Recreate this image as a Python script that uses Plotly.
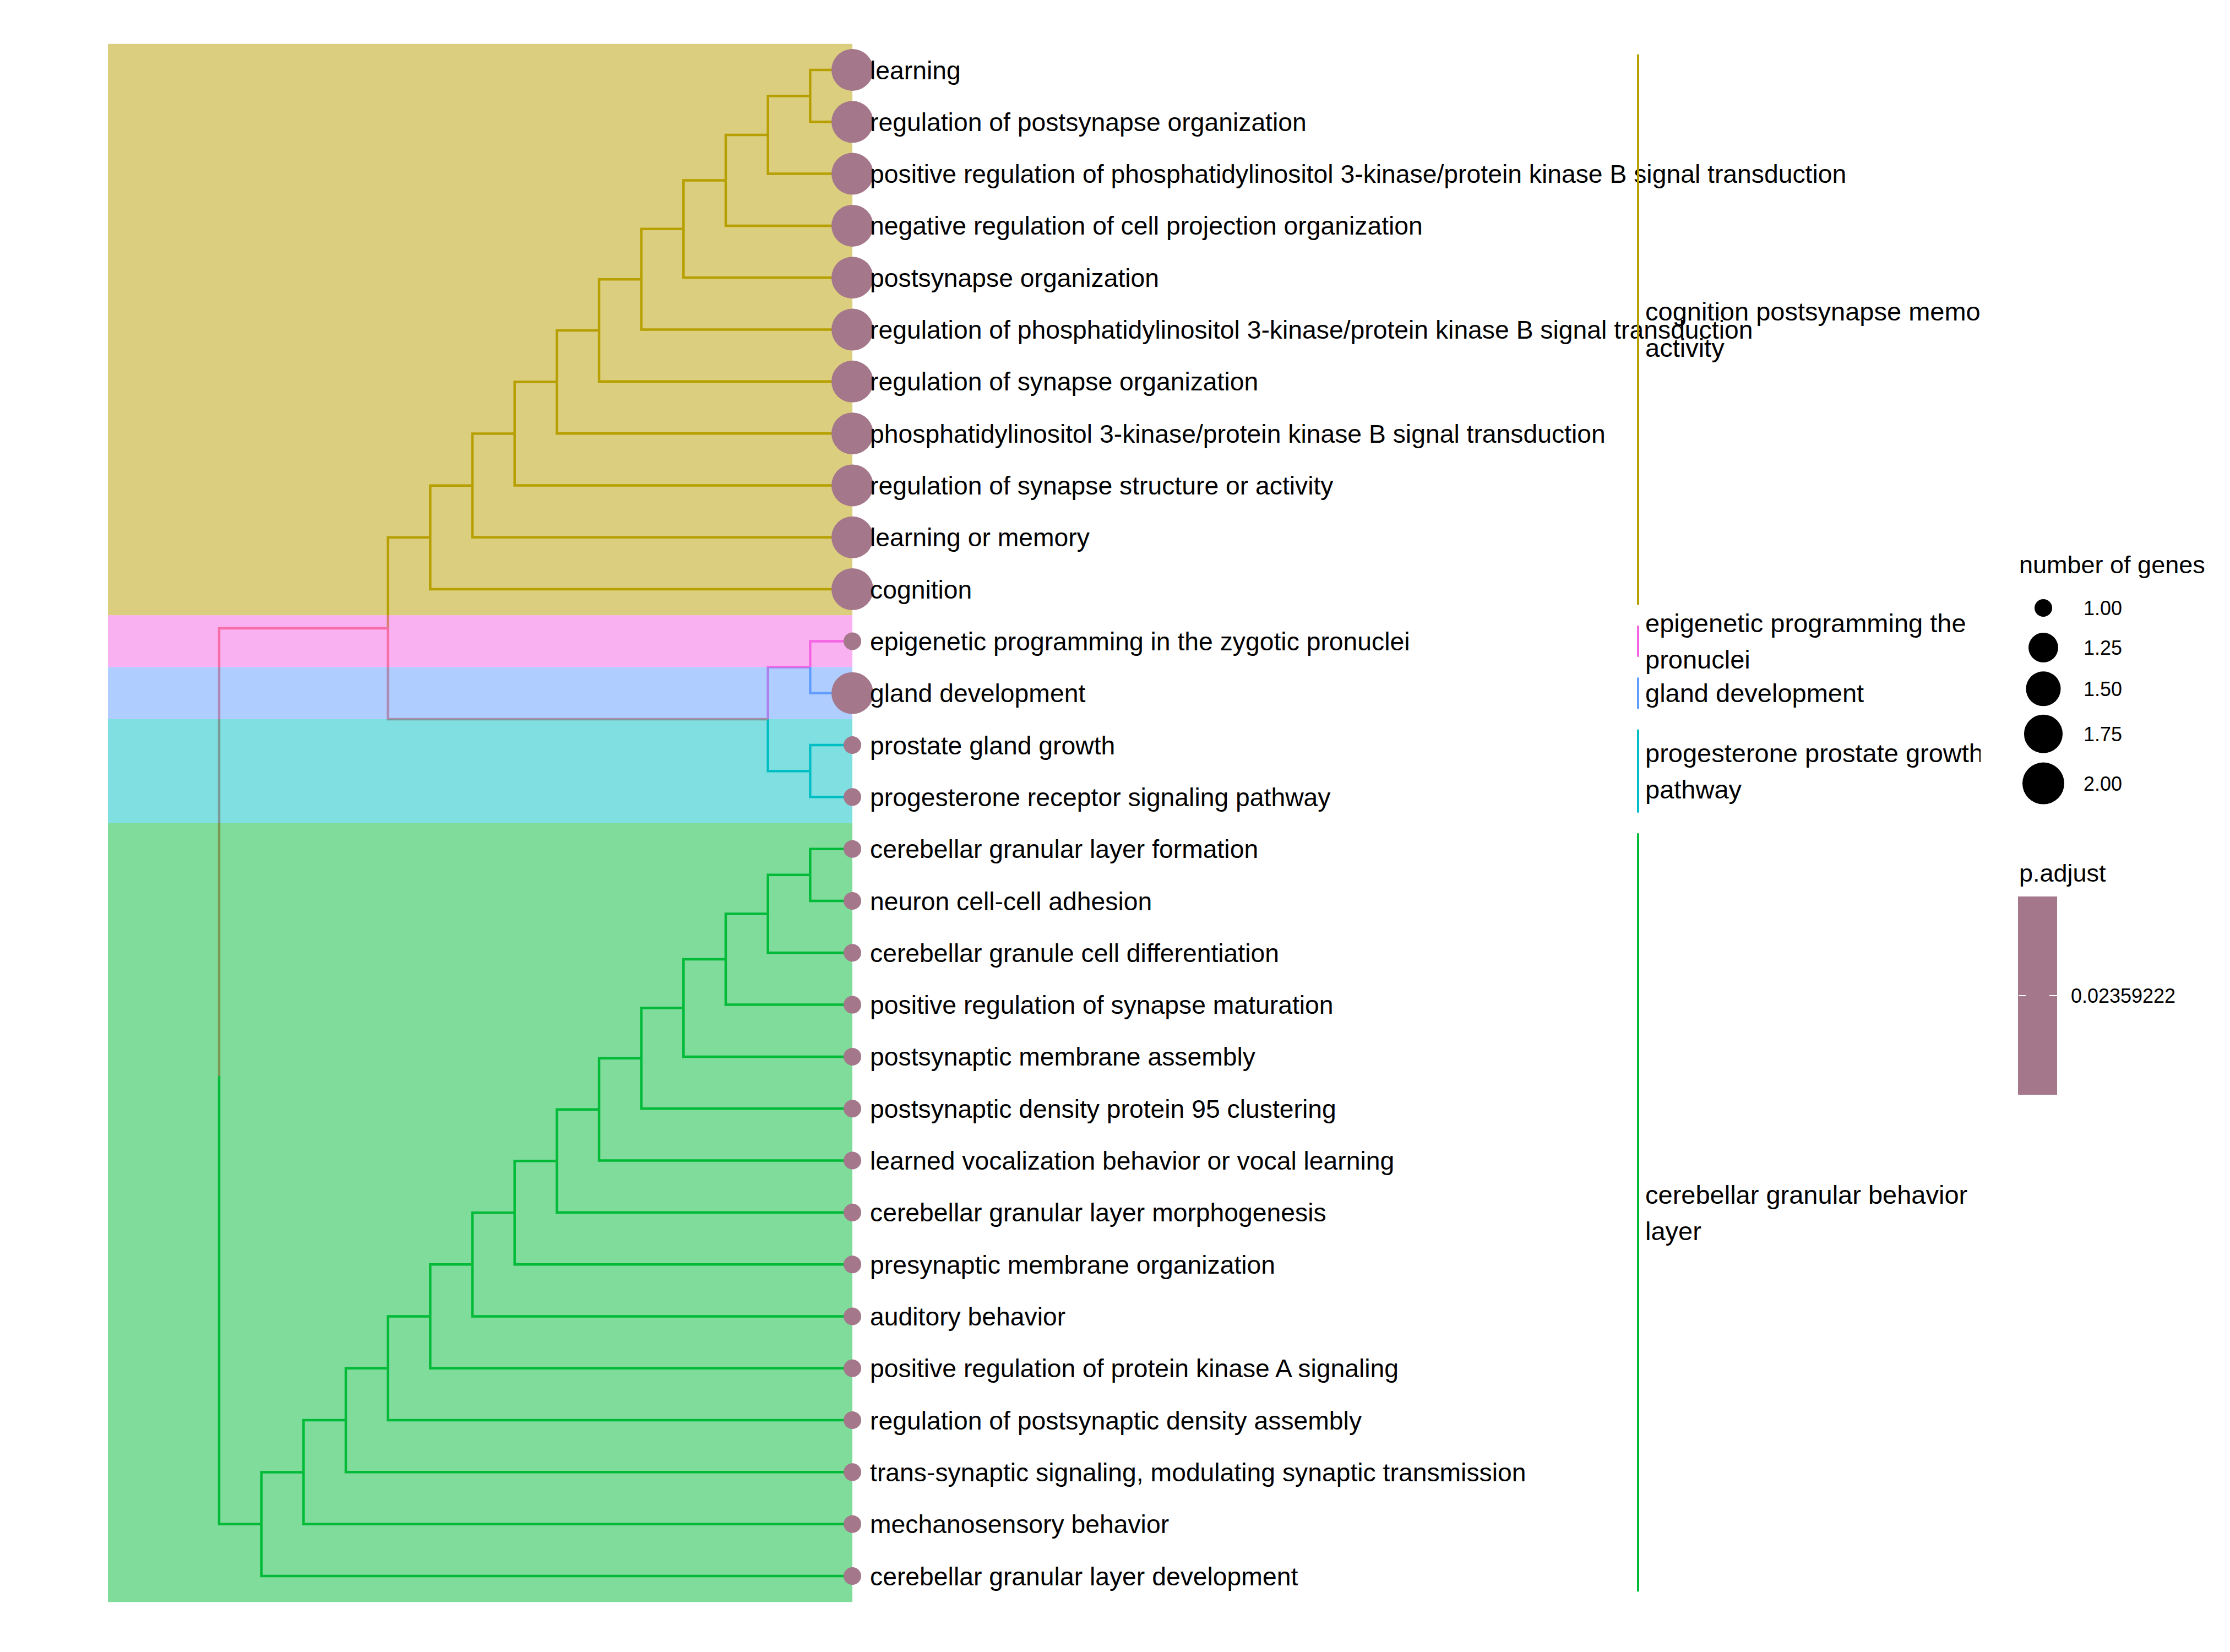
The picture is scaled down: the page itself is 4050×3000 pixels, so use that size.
import plotly.graph_objects as go

# ---------------- data ----------------
terms = [
    "learning",
    "regulation of postsynapse organization",
    "positive regulation of phosphatidylinositol 3-kinase/protein kinase B signal transduction",
    "negative regulation of cell projection organization",
    "postsynapse organization",
    "regulation of phosphatidylinositol 3-kinase/protein kinase B signal transduction",
    "regulation of synapse organization",
    "phosphatidylinositol 3-kinase/protein kinase B signal transduction",
    "regulation of synapse structure or activity",
    "learning or memory",
    "cognition",
    "epigenetic programming in the zygotic pronuclei",
    "gland development",
    "prostate gland growth",
    "progesterone receptor signaling pathway",
    "cerebellar granular layer formation",
    "neuron cell-cell adhesion",
    "cerebellar granule cell differentiation",
    "positive regulation of synapse maturation",
    "postsynaptic membrane assembly",
    "postsynaptic density protein 95 clustering",
    "learned vocalization behavior or vocal learning",
    "cerebellar granular layer morphogenesis",
    "presynaptic membrane organization",
    "auditory behavior",
    "positive regulation of protein kinase A signaling",
    "regulation of postsynaptic density assembly",
    "trans-synaptic signaling, modulating synaptic transmission",
    "mechanosensory behavior",
    "cerebellar granular layer development",
]
gene_counts = [2] * 11 + [1, 2] + [1] * 17
p_adjust = [0.02359222] * 30
leaf_cluster = [0] * 11 + [1, 2, 3, 3] + [4] * 15

cluster_label_lines = [
    ["cognition postsynapse memory", "activity"],
    ["epigenetic programming the", "pronuclei"],
    ["gland development"],
    ["progesterone prostate growth", "pathway"],
    ["cerebellar granular behavior", "layer"],
]

# hclust-style merges: negative = leaf (row number), positive = merge step (1-based)
merges = [
    (-1, -2), (1, -3), (2, -4), (3, -5), (4, -6), (5, -7), (6, -8), (7, -9), (8, -10), (9, -11),
    (-12, -13), (-14, -15), (11, 12), (10, 13),
    (-16, -17), (15, -18), (16, -19), (17, -20), (18, -21), (19, -22), (20, -23), (21, -24),
    (22, -25), (23, -26), (24, -27), (25, -28), (26, -29), (27, -30),
    (14, 28),
]
# edge colour group of each merge node (-1 = not inside a single cluster)
merge_group = [0] * 10 + [1, 3, -1, -1] + [4] * 14 + [-1]

size_legend_values = [1.00, 1.25, 1.50, 1.75, 2.00]

# ---------------- style ----------------
cluster_colors = ["#B79F00", "#F564E3", "#619CFF", "#00BFC4", "#00BA38"]
other_color = "#F8766D"
point_color = "#A4778B"
FONT = "Liberation Sans"
W, H = 4050, 3000

# pixel layout of the tree panel
ROOT_PX, TIP_PX, UNIT_PX = 398.0, 1548.0, 76.67
ROW1_PX, ROW_PX = 127.0, 94.31
PANEL_RIGHT_PX = 3597.0
RECT_LEFT = (196.0 - ROOT_PX) / UNIT_PX
TIPLAB_OFF = 32.0 / UNIT_PX
BAR_X = (2975.0 - ROOT_PX) / UNIT_PX
CLAB_X = (2988.0 - ROOT_PX) / UNIT_PX
LINE_GAP = 66.0 / ROW_PX
TEXT_DY = 5.0 / ROW_PX          # small baseline correction for text rows
SIZE_MIN, SIZE_MAX = 32.0, 76.0
LABEL_FS = 46.3
CLAB_FS = 47.0


def color_of(g):
    return other_color if g < 0 else cluster_colors[g]


def rgba(hexc, a):
    h = hexc.lstrip("#")
    return "rgba(%d,%d,%d,%.2f)" % (int(h[0:2], 16), int(h[2:4], 16), int(h[4:6], 16), a)


def size_scale(v, vmin, vmax):
    return SIZE_MIN + (SIZE_MAX - SIZE_MIN) * ((v - vmin) / (vmax - vmin)) ** 0.5


# ---------------- tree layout (cladogram, tips aligned) ----------------
n_leaf = len(terms)
level, ypos, parent, group = {}, {}, {}, {}
for i in range(n_leaf):
    key = -(i + 1)
    level[key] = 0
    ypos[key] = i + 1
    group[key] = leaf_cluster[i]
for m, (a, b) in enumerate(merges, start=1):
    level[m] = 1 + max(level[a], level[b])
    ypos[m] = (ypos[a] + ypos[b]) / 2.0
    parent[a] = m
    parent[b] = m
    group[m] = merge_group[m - 1]
max_level = max(level.values())
xpos = {k: max_level - v for k, v in level.items()}
tip_x = float(max_level)

fig = go.Figure()

# tree edges grouped by colour
seg = {}
for node, par in parent.items():
    c = color_of(group[node])
    xs, ys = seg.setdefault(c, ([], []))
    xs += [xpos[par], xpos[par], xpos[node], None]
    ys += [ypos[par], ypos[node], ypos[node], None]
for c, (xs, ys) in seg.items():
    fig.add_trace(go.Scatter(x=xs, y=ys, mode="lines", line=dict(color=c, width=4.5),
                             hoverinfo="skip", showlegend=False))

# translucent cluster background drawn over the branches
for ci, col in enumerate(cluster_colors):
    rows = [i + 1 for i, g in enumerate(leaf_cluster) if g == ci]
    y0, y1 = min(rows) - 0.5, max(rows) + 0.5
    fig.add_trace(go.Scatter(x=[RECT_LEFT, tip_x, tip_x, RECT_LEFT, RECT_LEFT],
                             y=[y0, y0, y1, y1, y0], mode="lines", fill="toself",
                             fillcolor=rgba(col, 0.5), line=dict(width=0),
                             hoverinfo="skip", showlegend=False))

# tip points
cmin, cmax = min(gene_counts), max(gene_counts)
pv = p_adjust[0]
fig.add_trace(go.Scatter(
    x=[tip_x] * n_leaf, y=list(range(1, n_leaf + 1)), mode="markers",
    marker=dict(size=[size_scale(v, cmin, cmax) for v in gene_counts], opacity=1,
                color=p_adjust, colorscale=[[0, point_color], [1, point_color]],
                cmin=pv - 1e-4, cmax=pv + 1e-4, line=dict(width=0),
                colorbar=dict(x=3665.0 / W, xanchor="left", y=1 - 1628.0 / H, yanchor="top",
                              len=360, lenmode="pixels", thickness=71, thicknessmode="pixels",
                              outlinewidth=0, xpad=0, ypad=0,
                              tickvals=[pv], ticktext=["\u00a0\u2009" + "%.8f" % pv],
                              ticks="inside", ticklen=14, tickwidth=2, tickcolor="white",
                              tickfont=dict(family=FONT, size=36, color="black"))),
    hoverinfo="skip", showlegend=False))

# tip labels
fig.add_trace(go.Scatter(
    x=[tip_x + TIPLAB_OFF] * n_leaf, y=[r + TEXT_DY for r in range(1, n_leaf + 1)], mode="text",
    text=terms, textposition="middle right",
    textfont=dict(family=FONT, size=LABEL_FS, color="black"),
    hoverinfo="skip", showlegend=False))

# cluster bars and labels
lab_x, lab_y, lab_t = [], [], []
for ci, col in enumerate(cluster_colors):
    rows = [i + 1 for i, g in enumerate(leaf_cluster) if g == ci]
    fig.add_trace(go.Scatter(x=[BAR_X, BAR_X], y=[min(rows) - 0.3, max(rows) + 0.3],
                             mode="lines", line=dict(color=col, width=4),
                             hoverinfo="skip", showlegend=False))
    center = (min(rows) + max(rows)) / 2.0
    lines = cluster_label_lines[ci]
    n = len(lines)
    for k, t in enumerate(lines):
        lab_x.append(CLAB_X)
        lab_y.append(center + (k - (n - 1) / 2.0) * LINE_GAP + TEXT_DY)
        lab_t.append(t)
fig.add_trace(go.Scatter(x=lab_x, y=lab_y, mode="text", text=lab_t,
                         textposition="middle right", cliponaxis=True,
                         textfont=dict(family=FONT, size=CLAB_FS, color="black"),
                         hoverinfo="skip", showlegend=False))

# size legend (pixel-unit auxiliary axes)
leg_sizes = [size_scale(v, min(size_legend_values), max(size_legend_values)) for v in size_legend_values]
leg_y = []
cur = 1104.0
prev_k = None
for s in leg_sizes:
    k = max(72.0, 1.23 * s)
    if prev_k is not None:
        cur += (prev_k + k) / 2.0
    leg_y.append(cur)
    prev_k = k
fig.add_trace(go.Scatter(x=[3711.0] * len(leg_sizes), y=leg_y, mode="markers",
                         marker=dict(size=leg_sizes, color="black", opacity=1, line=dict(width=0)),
                         xaxis="x2", yaxis="y2", hoverinfo="skip", showlegend=False))
fig.add_trace(go.Scatter(x=[3784.0] * len(leg_sizes), y=[v + 4 for v in leg_y], mode="text",
                         text=["%.2f" % v for v in size_legend_values], textposition="middle right",
                         textfont=dict(family=FONT, size=36, color="black"),
                         xaxis="x2", yaxis="y2", hoverinfo="skip", showlegend=False))

fig.add_annotation(x=3665, y=1025, xref="x2", yref="y2", text="number of genes", showarrow=False,
                   xanchor="left", yanchor="middle", font=dict(family=FONT, size=45, color="black"))
fig.add_annotation(x=3665, y=1585, xref="x2", yref="y2", text="p.adjust", showarrow=False,
                   xanchor="left", yanchor="middle", font=dict(family=FONT, size=45, color="black"))
fig.add_annotation(x=3679, y=1808, xref="x2", yref="y2", text="", showarrow=True, arrowhead=0,
                   ax=3665, ay=1808, axref="x2", ayref="y2", arrowcolor="white", arrowwidth=2,
                   standoff=0, startstandoff=0)

x_lo = -ROOT_PX / UNIT_PX
x_hi = (PANEL_RIGHT_PX - ROOT_PX) / UNIT_PX
y_top = 1 - ROW1_PX / ROW_PX
y_bot = 1 + (H - ROW1_PX) / ROW_PX

ax_off = dict(visible=False, showgrid=False, zeroline=False, fixedrange=True)
fig.update_layout(
    width=W, height=H, margin=dict(l=0, r=0, t=0, b=0),
    paper_bgcolor="white", plot_bgcolor="rgba(0,0,0,0)",
    font=dict(family=FONT),
    xaxis=dict(domain=[0, PANEL_RIGHT_PX / W], range=[x_lo, x_hi], **ax_off),
    yaxis=dict(domain=[0, 1], range=[y_bot, y_top], **ax_off),
    xaxis2=dict(domain=[PANEL_RIGHT_PX / W, 1], range=[PANEL_RIGHT_PX, W], anchor="y2", **ax_off),
    yaxis2=dict(domain=[0, 1], range=[H, 0], anchor="x2", **ax_off),
    showlegend=False,
)

fig.write_html("out.html")
